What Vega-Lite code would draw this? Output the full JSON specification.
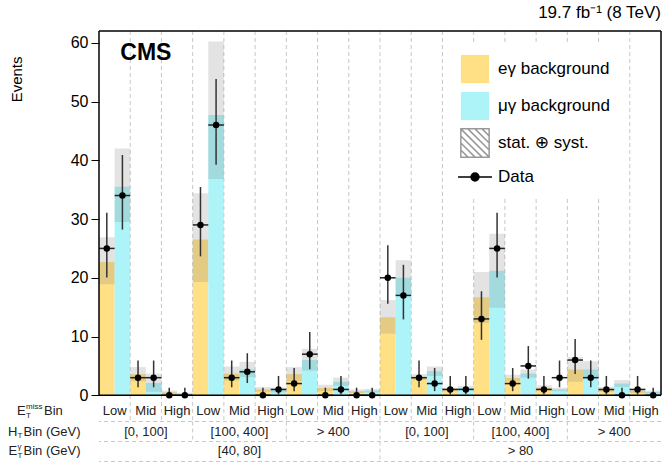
{
  "$schema": "https://vega.github.io/schema/vega-lite/v6.json",
  "autosize": {"type": "none"},
  "padding": {"left": 99, "top": 31, "right": 1, "bottom": 0},
  "width": 562,
  "height": 436,
  "config": {"font": "Liberation Sans", "view": {"stroke": null}},
  "title": {"text": "19.7 fb⁻¹ (8 TeV)", "anchor": "end", "frame": "group", "fontSize": 17, "fontWeight": "normal", "font": "Liberation Sans", "offset": 8, "color": "black"},
  "datasets": {
    "main": [
      {"bin": 1, "ch": "eγ background", "bkg": 22.7, "lo": 18.9, "hi": 26.9, "obs": 25, "olo": 20.04, "ohi": 31.07},
      {"bin": 1, "ch": "μγ background", "bkg": 35.5, "lo": 29.5, "hi": 42.0, "obs": 34, "olo": 28.2, "ohi": 40.9},
      {"bin": 2, "ch": "eγ background", "bkg": 3.6, "lo": 2.4, "hi": 4.8, "obs": 3, "olo": 1.37, "ohi": 5.92},
      {"bin": 2, "ch": "μγ background", "bkg": 2.1, "lo": 0.6, "hi": 3.7, "obs": 3, "olo": 1.37, "ohi": 5.92},
      {"bin": 3, "ch": "eγ background", "bkg": 0.5, "lo": 0.2, "hi": 0.8, "obs": 0, "olo": 0, "ohi": 1.3},
      {"bin": 3, "ch": "μγ background", "bkg": 0.25, "lo": 0.05, "hi": 0.45, "obs": 0, "olo": 0, "ohi": 1.3},
      {"bin": 4, "ch": "eγ background", "bkg": 26.5, "lo": 19.3, "hi": 34.4, "obs": 29, "olo": 23.65, "ohi": 35.45},
      {"bin": 4, "ch": "μγ background", "bkg": 47.7, "lo": 36.8, "hi": 60.2, "obs": 46, "olo": 39.24, "ohi": 53.84},
      {"bin": 5, "ch": "eγ background", "bkg": 3.7, "lo": 2.5, "hi": 4.9, "obs": 3, "olo": 1.37, "ohi": 5.92},
      {"bin": 5, "ch": "μγ background", "bkg": 4.4, "lo": 3.1, "hi": 5.7, "obs": 4, "olo": 2.09, "ohi": 7.16},
      {"bin": 6, "ch": "eγ background", "bkg": 1.0, "lo": 0.6, "hi": 1.4, "obs": 0, "olo": 0, "ohi": 1.3},
      {"bin": 6, "ch": "μγ background", "bkg": 0.9, "lo": 0.5, "hi": 1.3, "obs": 1, "olo": 0.17, "ohi": 3.3},
      {"bin": 7, "ch": "eγ background", "bkg": 3.6, "lo": 2.4, "hi": 4.8, "obs": 2, "olo": 0.71, "ohi": 4.64},
      {"bin": 7, "ch": "μγ background", "bkg": 6.0, "lo": 4.2, "hi": 7.9, "obs": 7, "olo": 4.42, "ohi": 10.77},
      {"bin": 8, "ch": "eγ background", "bkg": 1.25, "lo": 0.7, "hi": 1.8, "obs": 0, "olo": 0, "ohi": 1.3},
      {"bin": 8, "ch": "μγ background", "bkg": 2.3, "lo": 1.6, "hi": 3.0, "obs": 1, "olo": 0.17, "ohi": 3.3},
      {"bin": 9, "ch": "eγ background", "bkg": 0.7, "lo": 0.4, "hi": 1.0, "obs": 0, "olo": 0, "ohi": 1.3},
      {"bin": 9, "ch": "μγ background", "bkg": 0.8, "lo": 0.5, "hi": 1.1, "obs": 0, "olo": 0, "ohi": 1.3},
      {"bin": 10, "ch": "eγ background", "bkg": 13.3, "lo": 10.5, "hi": 16.2, "obs": 20, "olo": 15.57, "ohi": 25.55},
      {"bin": 10, "ch": "μγ background", "bkg": 20.0, "lo": 17.0, "hi": 23.0, "obs": 17, "olo": 12.92, "ohi": 22.21},
      {"bin": 11, "ch": "eγ background", "bkg": 3.1, "lo": 2.6, "hi": 3.6, "obs": 3, "olo": 1.37, "ohi": 5.92},
      {"bin": 11, "ch": "μγ background", "bkg": 4.1, "lo": 3.3, "hi": 4.9, "obs": 2, "olo": 0.71, "ohi": 4.64},
      {"bin": 12, "ch": "eγ background", "bkg": 1.0, "lo": 0.7, "hi": 1.3, "obs": 1, "olo": 0.17, "ohi": 3.3},
      {"bin": 12, "ch": "μγ background", "bkg": 1.25, "lo": 0.9, "hi": 1.6, "obs": 1, "olo": 0.17, "ohi": 3.3},
      {"bin": 13, "ch": "eγ background", "bkg": 16.7, "lo": 12.3, "hi": 21.0, "obs": 13, "olo": 9.44, "ohi": 17.71},
      {"bin": 13, "ch": "μγ background", "bkg": 21.2, "lo": 14.9, "hi": 27.5, "obs": 25, "olo": 20.04, "ohi": 31.07},
      {"bin": 14, "ch": "eγ background", "bkg": 2.95, "lo": 2.4, "hi": 3.5, "obs": 2, "olo": 0.71, "ohi": 4.64},
      {"bin": 14, "ch": "μγ background", "bkg": 3.7, "lo": 3.0, "hi": 4.4, "obs": 5, "olo": 2.84, "ohi": 8.38},
      {"bin": 15, "ch": "eγ background", "bkg": 1.25, "lo": 0.8, "hi": 1.7, "obs": 1, "olo": 0.17, "ohi": 3.3},
      {"bin": 15, "ch": "μγ background", "bkg": 1.0, "lo": 0.7, "hi": 1.3, "obs": 3, "olo": 1.37, "ohi": 5.92},
      {"bin": 16, "ch": "eγ background", "bkg": 4.4, "lo": 2.3, "hi": 6.5, "obs": 6, "olo": 3.62, "ohi": 9.58},
      {"bin": 16, "ch": "μγ background", "bkg": 4.4, "lo": 3.0, "hi": 5.8, "obs": 3, "olo": 1.37, "ohi": 5.92},
      {"bin": 17, "ch": "eγ background", "bkg": 1.0, "lo": 0.6, "hi": 1.4, "obs": 1, "olo": 0.17, "ohi": 3.3},
      {"bin": 17, "ch": "μγ background", "bkg": 2.0, "lo": 1.4, "hi": 2.6, "obs": 0, "olo": 0, "ohi": 1.3},
      {"bin": 18, "ch": "eγ background", "bkg": 0.75, "lo": 0.4, "hi": 1.1, "obs": 1, "olo": 0.17, "ohi": 3.3},
      {"bin": 18, "ch": "μγ background", "bkg": 0.55, "lo": 0.3, "hi": 0.8, "obs": 0, "olo": 0, "ohi": 1.3}
    ],
    "cats": [
      {"bin": 1, "met": "Low", "ht": "[0, 100]", "et": "[40, 80]"},
      {"bin": 2, "met": "Mid", "ht": "[0, 100]", "et": "[40, 80]"},
      {"bin": 3, "met": "High", "ht": "[0, 100]", "et": "[40, 80]"},
      {"bin": 4, "met": "Low", "ht": "[100, 400]", "et": "[40, 80]"},
      {"bin": 5, "met": "Mid", "ht": "[100, 400]", "et": "[40, 80]"},
      {"bin": 6, "met": "High", "ht": "[100, 400]", "et": "[40, 80]"},
      {"bin": 7, "met": "Low", "ht": "> 400", "et": "[40, 80]"},
      {"bin": 8, "met": "Mid", "ht": "> 400", "et": "[40, 80]"},
      {"bin": 9, "met": "High", "ht": "> 400", "et": "[40, 80]"},
      {"bin": 10, "met": "Low", "ht": "[0, 100]", "et": "> 80"},
      {"bin": 11, "met": "Mid", "ht": "[0, 100]", "et": "> 80"},
      {"bin": 12, "met": "High", "ht": "[0, 100]", "et": "> 80"},
      {"bin": 13, "met": "Low", "ht": "[100, 400]", "et": "> 80"},
      {"bin": 14, "met": "Mid", "ht": "[100, 400]", "et": "> 80"},
      {"bin": 15, "met": "High", "ht": "[100, 400]", "et": "> 80"},
      {"bin": 16, "met": "Low", "ht": "> 400", "et": "> 80"},
      {"bin": 17, "met": "Mid", "ht": "> 400", "et": "> 80"},
      {"bin": 18, "met": "High", "ht": "> 400", "et": "> 80"}
    ],
    "edges": [
      {"bin": 2, "level": 1}, {"bin": 3, "level": 1}, {"bin": 4, "level": 2},
      {"bin": 5, "level": 1}, {"bin": 6, "level": 1}, {"bin": 7, "level": 2},
      {"bin": 8, "level": 1}, {"bin": 9, "level": 1}, {"bin": 10, "level": 3},
      {"bin": 11, "level": 1}, {"bin": 12, "level": 1}, {"bin": 13, "level": 2},
      {"bin": 14, "level": 1}, {"bin": 15, "level": 1}, {"bin": 16, "level": 2},
      {"bin": 17, "level": 1}, {"bin": 18, "level": 1}
    ]
  },
  "layer": [
    {
      "data": {"name": "main"},
      "mark": {"type": "bar", "stroke": null},
      "encoding": {
        "x": {"field": "bin", "type": "ordinal", "axis": null, "scale": {"domain": [1,2,3,4,5,6,7,8,9,10,11,12,13,14,15,16,17,18], "paddingInner": 0, "paddingOuter": 0}},
        "xOffset": {"field": "ch", "type": "nominal", "scale": {"domain": ["eγ background", "μγ background"], "paddingInner": 0, "paddingOuter": 0}},
        "y": {"field": "bkg", "type": "quantitative", "title": "Events",
              "scale": {"domain": [-12.2, 62], "nice": false, "zero": false},
              "axis": {"values": [0, 10, 20, 30, 40, 50, 60], "domain": false, "grid": false, "tickSize": 8, "tickColor": "black", "tickWidth": 1, "labelColor": "black", "labelFontSize": 16, "labelFont": "Liberation Sans", "labelPadding": 3, "titleFontSize": 15, "titleFontWeight": "normal", "titleColor": "black", "titleFont": "Liberation Sans", "titleX": -83, "titleY": 25, "titleAlign": "right", "titleBaseline": "middle", "titleAngle": 270}},
        "color": {"field": "ch", "type": "nominal",
          "scale": {"domain": ["eγ background", "μγ background", "stat. ⊕ syst.", "Data"], "range": ["#FFE085", "#ADF4F9", "#ffffff", "#000000"]},
          "legend": {"title": null, "orient": "none", "legendX": 349, "legendY": 11, "padding": 12, "fillColor": "white", "symbolSize": 800, "symbolStrokeWidth": 1.5, "rowPadding": 1, "labelOffset": 8, "labelFontSize": 17, "labelFont": "Liberation Sans, DejaVu Sans", "labelColor": "black", "labelLimit": 300}}
      }
    },
    {
      "data": {"values": []},
      "mark": {"type": "point", "filled": false, "strokeWidth": 1.5, "opacity": 1, "size": 800},
      "encoding": {
        "shape": {"field": "ch", "type": "nominal", "title": null,
          "scale": {"domain": ["eγ background", "μγ background", "stat. ⊕ syst.", "Data"], "range": ["square", "square", "M-1,-1H1V1H-1Z M-1,-1L1,1 M-0.5,-1L1,0.5 M0,-1L1,0 M0.5,-1L1,-0.5 M-1,-0.5L0.5,1 M-1,0L0,1 M-1,0.5L-0.5,1", "M-1.2,0H1.2M-0.28,0A0.28,0.28 0 1,0 0.28,0A0.28,0.28 0 1,0 -0.28,0"]}},
        "stroke": {"field": "ch", "type": "nominal", "title": null,
          "scale": {"domain": ["eγ background", "μγ background", "stat. ⊕ syst.", "Data"], "range": ["transparent", "transparent", "#999999", "#000000"]}}
      }
    },
    {
      "data": {"name": "edges"},
      "mark": {"type": "rule", "stroke": "#c8c8c8", "strokeWidth": 1, "strokeDash": [4, 3]},
      "encoding": {
        "x": {"field": "bin", "type": "ordinal", "bandPosition": 0, "axis": null},
        "y": {"datum": 62, "type": "quantitative"},
        "y2": {"datum": -4.46}
      }
    },
    {
      "data": {"name": "edges"},
      "transform": [{"filter": "datum.level >= 2"}],
      "mark": {"type": "rule", "stroke": "#c8c8c8", "strokeWidth": 1, "strokeDash": [4, 3]},
      "encoding": {
        "x": {"field": "bin", "type": "ordinal", "bandPosition": 0, "axis": null},
        "y": {"datum": -4.46, "type": "quantitative"},
        "y2": {"datum": -7.86}
      }
    },
    {
      "data": {"name": "edges"},
      "transform": [{"filter": "datum.level >= 3"}],
      "mark": {"type": "rule", "stroke": "#c8c8c8", "strokeWidth": 1, "strokeDash": [4, 3]},
      "encoding": {
        "x": {"field": "bin", "type": "ordinal", "bandPosition": 0, "axis": null},
        "y": {"datum": -7.86, "type": "quantitative"},
        "y2": {"datum": -11.26}
      }
    },
    {
      "data": {"values": [{}]},
      "mark": {"type": "rule", "stroke": "#c8c8c8", "strokeWidth": 1, "strokeDash": [4, 3]},
      "encoding": {"y": {"datum": -4.46, "type": "quantitative"}}
    },
    {
      "data": {"values": [{}]},
      "mark": {"type": "rule", "stroke": "#c8c8c8", "strokeWidth": 1, "strokeDash": [4, 3]},
      "encoding": {"y": {"datum": -7.86, "type": "quantitative"}}
    },
    {
      "data": {"values": [{}]},
      "mark": {"type": "rule", "stroke": "#c8c8c8", "strokeWidth": 1, "strokeDash": [4, 3]},
      "encoding": {"y": {"datum": -11.26, "type": "quantitative"}}
    },
    {
      "data": {"name": "main"},
      "mark": {"type": "bar", "fill": "#808080", "fillOpacity": 0.22, "stroke": null},
      "encoding": {
        "x": {"field": "bin", "type": "ordinal", "axis": null},
        "xOffset": {"field": "ch", "type": "nominal"},
        "y": {"field": "lo", "type": "quantitative", "title": "Events"},
        "y2": {"field": "hi"}
      }
    },
    {
      "data": {"name": "main"},
      "mark": {"type": "rule", "stroke": "#333333", "strokeWidth": 1.5},
      "encoding": {
        "x": {"field": "bin", "type": "ordinal", "axis": null},
        "xOffset": {"field": "ch", "type": "nominal"},
        "y": {"field": "olo", "type": "quantitative", "title": "Events"},
        "y2": {"field": "ohi"}
      }
    },
    {
      "data": {"name": "main"},
      "mark": {"type": "tick", "color": "#222222", "size": 15.6, "thickness": 1.5, "orient": "horizontal", "opacity": 1},
      "encoding": {
        "x": {"field": "bin", "type": "ordinal", "axis": null},
        "xOffset": {"field": "ch", "type": "nominal"},
        "y": {"field": "obs", "type": "quantitative", "title": "Events"}
      }
    },
    {
      "data": {"name": "main"},
      "mark": {"type": "point", "filled": true, "color": "#000000", "size": 42, "opacity": 1},
      "encoding": {
        "x": {"field": "bin", "type": "ordinal", "axis": null},
        "xOffset": {"field": "ch", "type": "nominal"},
        "y": {"field": "obs", "type": "quantitative", "title": "Events"}
      }
    },
    {
      "data": {"values": [{}]},
      "mark": {"type": "rule", "stroke": "#000000", "strokeWidth": 1.5},
      "encoding": {"y": {"datum": 0, "type": "quantitative"}}
    },
    {
      "data": {"values": [{}]},
      "mark": {"type": "rule", "stroke": "#000000", "strokeWidth": 1.5},
      "encoding": {"y": {"datum": 62, "type": "quantitative"}}
    },
    {
      "data": {"values": [{}]},
      "mark": {"type": "rule", "stroke": "#000000", "strokeWidth": 1.5},
      "encoding": {
        "x": {"datum": 1, "type": "ordinal", "bandPosition": 0, "axis": null},
        "y": {"datum": 0, "type": "quantitative"},
        "y2": {"datum": 62}
      }
    },
    {
      "data": {"values": [{}]},
      "mark": {"type": "rule", "stroke": "#000000", "strokeWidth": 1.5},
      "encoding": {
        "x": {"datum": 18, "type": "ordinal", "bandPosition": 1, "axis": null},
        "y": {"datum": 0, "type": "quantitative"},
        "y2": {"datum": 62}
      }
    },
    {
      "data": {"values": [{}]},
      "mark": {"type": "text", "text": "CMS", "fontSize": 23, "fontWeight": "bold", "font": "Liberation Sans", "color": "#000000", "align": "center", "baseline": "middle"},
      "encoding": {
        "x": {"datum": 2, "type": "ordinal", "axis": null},
        "y": {"datum": 58.3, "type": "quantitative"}
      }
    },
    {
      "data": {"name": "cats"},
      "mark": {"type": "text", "fontSize": 13, "color": "#222222", "align": "center", "baseline": "middle"},
      "encoding": {
        "x": {"field": "bin", "type": "ordinal", "axis": null},
        "y": {"datum": -2.67, "type": "quantitative"},
        "text": {"field": "met"}
      }
    },
    {
      "data": {"name": "cats"},
      "transform": [{"filter": "datum.met === 'Mid'"}],
      "mark": {"type": "text", "fontSize": 13, "color": "#222222", "align": "center", "baseline": "middle"},
      "encoding": {
        "x": {"field": "bin", "type": "ordinal", "axis": null},
        "y": {"datum": -6.16, "type": "quantitative"},
        "text": {"field": "ht"}
      }
    },
    {
      "data": {"name": "cats"},
      "transform": [{"filter": "datum.bin === 5 || datum.bin === 14"}],
      "mark": {"type": "text", "fontSize": 13, "color": "#222222", "align": "center", "baseline": "middle"},
      "encoding": {
        "x": {"field": "bin", "type": "ordinal", "axis": null},
        "y": {"datum": -9.56, "type": "quantitative"},
        "text": {"field": "et"}
      }
    },
    {
      "data": {"values": [{}]},
      "mark": {"type": "text", "text": "E", "fontSize": 13, "color": "#222222", "align": "left", "baseline": "middle", "dx": -82},
      "encoding": {"x": {"datum": 1, "type": "ordinal", "bandPosition": 0, "axis": null}, "y": {"datum": -2.67, "type": "quantitative"}}
    },
    {
      "data": {"values": [{}]},
      "mark": {"type": "text", "text": "miss", "fontSize": 8, "color": "#222222", "align": "left", "baseline": "middle", "dx": -73, "dy": -4.5},
      "encoding": {"x": {"datum": 1, "type": "ordinal", "bandPosition": 0, "axis": null}, "y": {"datum": -2.67, "type": "quantitative"}}
    },
    {
      "data": {"values": [{}]},
      "mark": {"type": "text", "text": "T", "fontSize": 8, "color": "#222222", "align": "left", "baseline": "middle", "dx": -73, "dy": 4.5},
      "encoding": {"x": {"datum": 1, "type": "ordinal", "bandPosition": 0, "axis": null}, "y": {"datum": -2.67, "type": "quantitative"}}
    },
    {
      "data": {"values": [{}]},
      "mark": {"type": "text", "text": "Bin", "fontSize": 13, "color": "#222222", "align": "left", "baseline": "middle", "dx": -55},
      "encoding": {"x": {"datum": 1, "type": "ordinal", "bandPosition": 0, "axis": null}, "y": {"datum": -2.67, "type": "quantitative"}}
    },
    {
      "data": {"values": [{}]},
      "mark": {"type": "text", "text": "H", "fontSize": 13, "color": "#222222", "align": "left", "baseline": "middle", "dx": -91},
      "encoding": {"x": {"datum": 1, "type": "ordinal", "bandPosition": 0, "axis": null}, "y": {"datum": -6.16, "type": "quantitative"}}
    },
    {
      "data": {"values": [{}]},
      "mark": {"type": "text", "text": "T", "fontSize": 8, "color": "#222222", "align": "left", "baseline": "middle", "dx": -81.5, "dy": 4.5},
      "encoding": {"x": {"datum": 1, "type": "ordinal", "bandPosition": 0, "axis": null}, "y": {"datum": -6.16, "type": "quantitative"}}
    },
    {
      "data": {"values": [{}]},
      "mark": {"type": "text", "text": "Bin (GeV)", "fontSize": 13, "color": "#222222", "align": "left", "baseline": "middle", "dx": -75.5},
      "encoding": {"x": {"datum": 1, "type": "ordinal", "bandPosition": 0, "axis": null}, "y": {"datum": -6.16, "type": "quantitative"}}
    },
    {
      "data": {"values": [{}]},
      "mark": {"type": "text", "text": "E", "fontSize": 13, "color": "#222222", "align": "left", "baseline": "middle", "dx": -90.5},
      "encoding": {"x": {"datum": 1, "type": "ordinal", "bandPosition": 0, "axis": null}, "y": {"datum": -9.56, "type": "quantitative"}}
    },
    {
      "data": {"values": [{}]},
      "mark": {"type": "text", "text": "γ", "fontSize": 8, "color": "#222222", "align": "left", "baseline": "middle", "dx": -81.5, "dy": -4.5},
      "encoding": {"x": {"datum": 1, "type": "ordinal", "bandPosition": 0, "axis": null}, "y": {"datum": -9.56, "type": "quantitative"}}
    },
    {
      "data": {"values": [{}]},
      "mark": {"type": "text", "text": "T", "fontSize": 8, "color": "#222222", "align": "left", "baseline": "middle", "dx": -81.5, "dy": 4.5},
      "encoding": {"x": {"datum": 1, "type": "ordinal", "bandPosition": 0, "axis": null}, "y": {"datum": -9.56, "type": "quantitative"}}
    },
    {
      "data": {"values": [{}]},
      "mark": {"type": "text", "text": "Bin (GeV)", "fontSize": 13, "color": "#222222", "align": "left", "baseline": "middle", "dx": -75.5},
      "encoding": {"x": {"datum": 1, "type": "ordinal", "bandPosition": 0, "axis": null}, "y": {"datum": -9.56, "type": "quantitative"}}
    }
  ]
}
